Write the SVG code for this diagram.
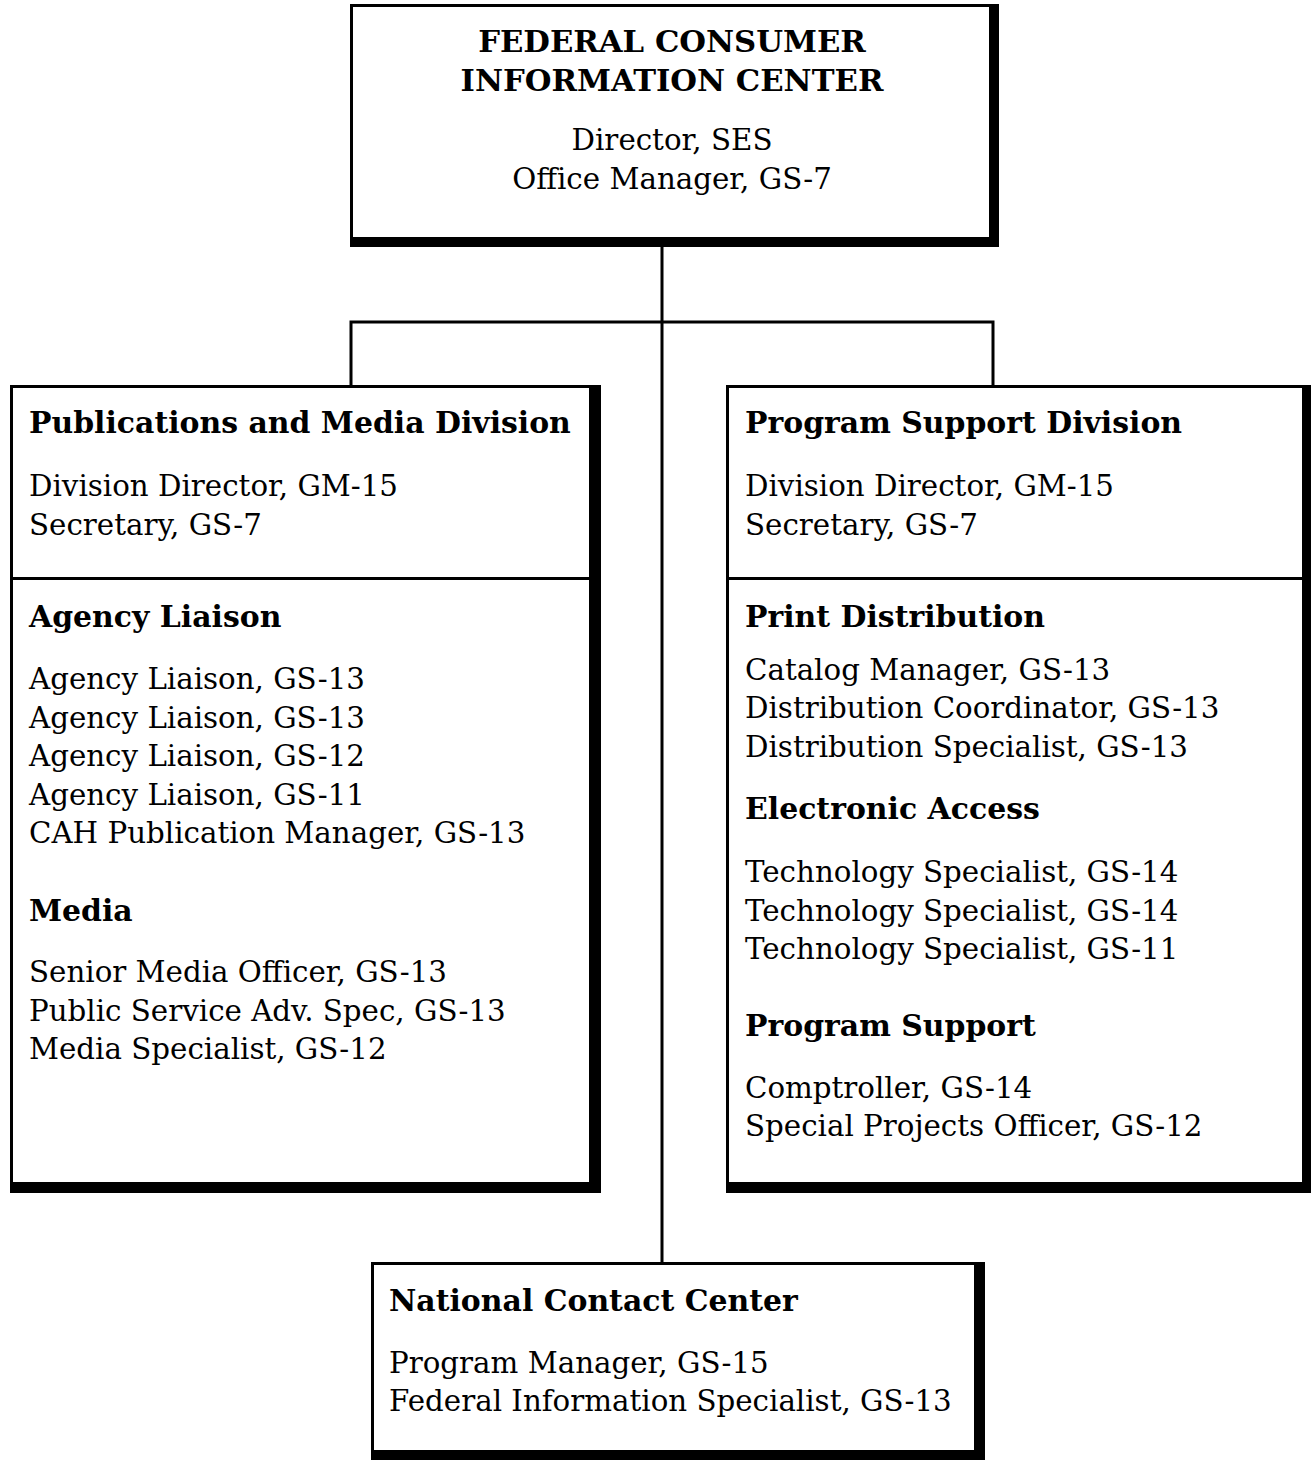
<svg xmlns="http://www.w3.org/2000/svg" width="1311" height="1460" viewBox="0 0 1311 1460">
<style>
.box{fill:#fff;stroke:#000;stroke-width:3}
.sh{fill:#000}
.ln{stroke:#000;stroke-width:3;fill:none}
text{font-family:"DejaVu Serif","Liberation Serif",serif;font-size:29.3px;fill:#000}
.b{font-weight:bold;font-size:29.9px}
.c{text-anchor:middle}
.cap{font-size:30.7px}
</style>
<rect width="1311" height="1460" fill="#fff"/>
<g id="connectors">
<path class="ln" d="M662,246 V1263 M351,386 V322 H993 V386"/>
</g>
<g id="director">
<rect class="box" x="351.5" y="5.5" width="639" height="233"/>
<path class="sh" d="M990,4 H999 V247 H350 V237 H990 Z"/>
<text class="b c cap" x="672" y="52">FEDERAL CONSUMER</text>
<text class="b c cap" x="672" y="91">INFORMATION CENTER</text>
<text class="c" x="672" y="150">Director, SES</text>
<text class="c" x="672" y="189">Office Manager, GS-7</text>
</g>
<g id="publications">
<rect class="box" x="11.5" y="386.5" width="579" height="797"/>
<path class="sh" d="M590,385 H601 V1193 H10 V1183 H590 Z"/>
<path class="ln" d="M10,578.5 H601"/>
<text class="b" x="29" y="433">Publications and Media Division</text>
<text x="29" y="496">Division Director, GM-15</text>
<text x="29" y="535">Secretary, GS-7</text>
<text class="b" x="29" y="627">Agency Liaison</text>
<text x="29" y="689">Agency Liaison, GS-13</text>
<text x="29" y="728">Agency Liaison, GS-13</text>
<text x="29" y="766">Agency Liaison, GS-12</text>
<text x="29" y="805">Agency Liaison, GS-11</text>
<text x="29" y="843">CAH Publication Manager, GS-13</text>
<text class="b" x="29" y="921">Media</text>
<text x="29" y="982">Senior Media Officer, GS-13</text>
<text x="29" y="1021">Public Service Adv. Spec, GS-13</text>
<text x="29" y="1059">Media Specialist, GS-12</text>
</g>
<g id="program-support">
<rect class="box" x="727.5" y="386.5" width="576" height="797"/>
<path class="sh" d="M1303,385 H1311 V1193 H726 V1183 H1303 Z"/>
<path class="ln" d="M726,578.5 H1311"/>
<text class="b" x="745" y="433">Program Support Division</text>
<text x="745" y="496">Division Director, GM-15</text>
<text x="745" y="535">Secretary, GS-7</text>
<text class="b" x="745" y="627">Print Distribution</text>
<text x="745" y="680">Catalog Manager, GS-13</text>
<text x="745" y="718">Distribution Coordinator, GS-13</text>
<text x="745" y="757">Distribution Specialist, GS-13</text>
<text class="b" x="745" y="819">Electronic Access</text>
<text x="745" y="882">Technology Specialist, GS-14</text>
<text x="745" y="921">Technology Specialist, GS-14</text>
<text x="745" y="959">Technology Specialist, GS-11</text>
<text class="b" x="745" y="1036">Program Support</text>
<text x="745" y="1098">Comptroller, GS-14</text>
<text x="745" y="1136">Special Projects Officer, GS-12</text>
</g>
<g id="contact-center">
<rect class="box" x="372.5" y="1263.5" width="603" height="188"/>
<path class="sh" d="M975,1262 H985 V1460 H371 V1450 H975 Z"/>
<text class="b" x="389" y="1311">National Contact Center</text>
<text x="389" y="1373">Program Manager, GS-15</text>
<text x="389" y="1411">Federal Information Specialist, GS-13</text>
</g>
</svg>
